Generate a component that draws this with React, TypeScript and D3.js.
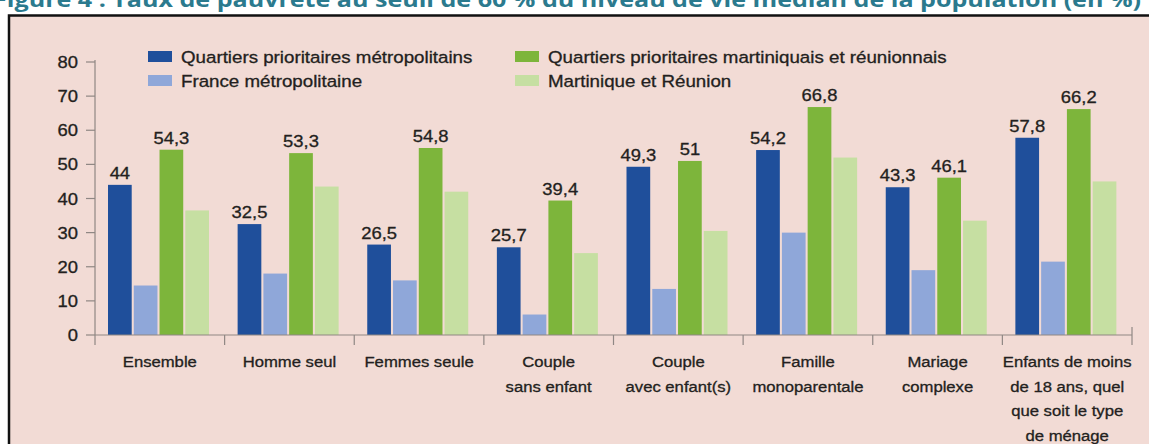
import * as d3 from 'd3';
import { useEffect, useRef } from 'react';

const categories = [
  'Ensemble',
  'Homme seul',
  'Femmes seule',
  'Couple\nsans enfant',
  'Couple\navec enfant(s)',
  'Famille\nmonoparentale',
  'Mariage\ncomplexe',
  'Enfants de moins\nde 18 ans, quel\nque soit le type\nde ménage',
];

const seriesNames = [
  'Quartiers prioritaires métropolitains',
  'France métropolitaine',
  'Quartiers prioritaires martiniquais et réunionnais',
  'Martinique et Réunion',
];

const qpMetro = [44, 32.5, 26.5, 25.7, 49.3, 54.2, 43.3, 57.8];
const franceMetro = [14.5, 18, 16, 6, 13.5, 30, 19, 21.5];
const qpDom = [54.3, 53.3, 54.8, 39.4, 51, 66.8, 46.1, 66.2];
const domTotal = [36.5, 43.5, 42, 24, 30.5, 52, 33.5, 45];

const seriesValues = [qpMetro, franceMetro, qpDom, domTotal];
const labelled = [true, false, true, false];
const colors = ['#1f4f9b', '#8fa7d9', '#7db53b', '#c6dfa2'];

const yTicks = [0, 10, 20, 30, 40, 50, 60, 70, 80];

const title = 'Figure 4 : Taux de pauvreté au seuil de 60 % du niveau de vie médian de la population (en %)';

const W = 1149;
const H = 444;
const FONT = '"Liberation Sans", Arial, sans-serif';
const SX = 1.15; // the source picture is stretched sideways
const INK = '#231f20';

export default function App() {
  const ref = useRef<SVGSVGElement>(null);

  useEffect(() => {
    const svg = d3.select(ref.current);
    svg.selectAll('*').remove();

    const left = 95;
    const right = 1132;
    const base = 335;

    const x0 = d3.scaleBand<string>().domain(categories).range([left, right]);
    const x1 = d3.scaleBand<string>()
      .domain(seriesNames)
      .range([13, 114])
      .paddingInner(0.08);
    const y = d3.scaleLinear().domain([0, 80]).range([base, 62]);

    const stretchedText = (g, x, yy, txt, size, anchor = 'start') =>
      g.append('text')
        .attr('transform', `translate(${x},${yy}) scale(${SX},1)`)
        .attr('text-anchor', anchor)
        .style('font-family', FONT)
        .style('font-size', `${size}px`)
        .style('fill', INK)
        .style('stroke', INK)
        .style('stroke-width', 0.3)
        .text(txt);

    // title (cut off at the top of the picture)
    svg.append('text')
      .attr('transform', 'translate(1141,7) scale(1.14,1)')
      .attr('text-anchor', 'end')
      .style('font-family', '"Open Sans", sans-serif')
      .style('font-weight', 700)
      .style('font-size', '22px')
      .style('fill', '#2b7a8e')
      .text(title);

    // frame
    svg.append('rect')
      .attr('x', 9)
      .attr('y', 15.5)
      .attr('width', 1300)
      .attr('height', 600)
      .attr('fill', '#f2dbd5')
      .attr('stroke', '#111')
      .attr('stroke-width', 2.5);

    const root = svg.append('g');

    // y axis
    root.append('line')
      .attr('x1', left).attr('x2', left)
      .attr('y1', y(80) - 2).attr('y2', base + 10)
      .attr('stroke', '#8f8784').attr('stroke-width', 1.2);

    yTicks.forEach((t) => {
      root.append('line')
        .attr('x1', left - 9).attr('x2', left)
        .attr('y1', y(t)).attr('y2', y(t))
        .attr('stroke', '#8f8784').attr('stroke-width', 1.2);
      stretchedText(root, 78, y(t) + 6, String(t), 16, 'end');
    });

    // bars
    categories.forEach((cat, ci) => {
      const g = root.append('g').attr('transform', `translate(${x0(cat)},0)`);
      seriesNames.forEach((name, si) => {
        const v = seriesValues[si][ci];
        g.append('rect')
          .attr('x', x1(name))
          .attr('y', y(v))
          .attr('width', x1.bandwidth())
          .attr('height', base - y(v))
          .attr('fill', colors[si]);
        if (labelled[si]) {
          stretchedText(
            g,
            (x1(name) as number) + x1.bandwidth() / 2,
            y(v) - 6,
            String(v).replace('.', ','),
            16,
            'middle',
          );
        }
      });
    });

    // x axis
    root.append('line')
      .attr('x1', left).attr('x2', right)
      .attr('y1', base).attr('y2', base)
      .attr('stroke', '#8f8784').attr('stroke-width', 1.2);

    categories.forEach((cat, ci) => {
      const xr = (x0(cat) as number) + x0.bandwidth();
      root.append('line')
        .attr('x1', xr).attr('x2', xr)
        .attr('y1', ci === categories.length - 1 ? base - 8 : base)
        .attr('y2', base + 10)
        .attr('stroke', '#8f8784').attr('stroke-width', 1.2);

      const cx = (x0(cat) as number) + x0.bandwidth() / 2;
      cat.split('\n').forEach((line, li) => {
        stretchedText(root, cx, 367 + li * 24.5, line, 14.5, 'middle');
      });
    });

    // legend
    const legendPos = [
      [148, 51], [148, 75], [515, 51], [515, 75],
    ];
    seriesNames.forEach((name, si) => {
      const [lx, ly] = legendPos[si];
      root.append('rect')
        .attr('x', lx).attr('y', ly)
        .attr('width', 24).attr('height', 11)
        .attr('fill', colors[si]);
      stretchedText(root, lx + 33, ly + 12, name, 16.3);
    });
  }, []);

  return (
    <svg
      ref={ref}
      width={W}
      height={H}
      style={{ position: 'absolute', left: 0, top: 0, background: '#fff' }}
    />
  );
}
